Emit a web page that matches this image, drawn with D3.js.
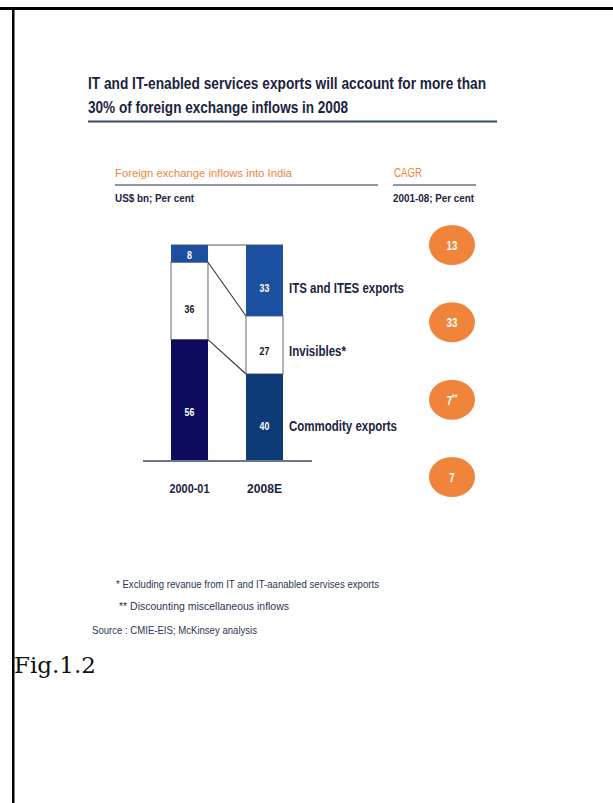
<!DOCTYPE html>
<html>
<head>
<meta charset="utf-8">
<script src="https://cdn.jsdelivr.net/npm/d3@7"></script>
<style>
  html, body { margin: 0; padding: 0; background: #fff; }
  svg { display: block; }
  .narrow { font-family: "Liberation Sans", Arial, sans-serif; }
</style>
</head>
<body>
<script>
// Foreign exchange inflows into India, share by source (per cent)
const years = ["2000-01", "2008E"];
const segments = ["Commodity exports", "Invisibles*", "ITS and ITES exports"];
const share2000 = [56, 36, 8];
const share2008 = [40, 27, 33];
// CAGR 2001-08, per cent (top to bottom)
const cagrValues = ["13", "33", "7", "7"];
const cagrMarks = ["", "", "**", ""];
const footnotes = [
  "* Excluding revanue from IT and IT-aanabled servises exports",
  "** Discounting miscellaneous inflows"
];
const sourceNote = "Source : CMIE-EIS; McKinsey analysis";

const W = 613, H = 803;
const svg = d3.select("body").append("svg").attr("width", W).attr("height", H);

const navyText = "#1c2340";
const orange = "#f0843a";
const fills = {
  "2000-01": ["#0f0b5e", "#ffffff", "#1d4f9e"],
  "2008E": ["#0d3b78", "#ffffff", "#1c51a2"]
};

// squeeze a text element to a narrow face of the given width
function fit(sel, w) {
  return sel.attr("textLength", w).attr("lengthAdjust", "spacingAndGlyphs");
}

// page frame
svg.append("rect").attr("x", 0).attr("y", 7).attr("width", W).attr("height", 3).attr("fill", "#000");
svg.append("rect").attr("x", 12).attr("y", 7).attr("width", 2.5).attr("height", H - 7).attr("fill", "#000");

// title
const title = svg.append("text").attr("class", "narrow")
  .attr("font-weight", "bold").attr("font-size", 16).attr("fill", navyText);
fit(title.append("tspan").attr("x", 88).attr("y", 89).text("IT and IT-enabled services exports will account for more than"), 398);
fit(title.append("tspan").attr("x", 88).attr("y", 113).text("30% of foreign exchange inflows in 2008"), 260);
svg.append("line").attr("x1", 88).attr("x2", 497).attr("y1", 121.5).attr("y2", 121.5)
  .attr("stroke", "#3b4a66").attr("stroke-width", 2);

// section headers
fit(svg.append("text").attr("class", "narrow").attr("x", 115).attr("y", 177)
  .attr("font-size", 11).attr("fill", orange).text("Foreign exchange inflows into India"), 177);
svg.append("line").attr("x1", 115).attr("x2", 378).attr("y1", 185).attr("y2", 185)
  .attr("stroke", "#2a2f40").attr("stroke-width", 1);
fit(svg.append("text").attr("class", "narrow").attr("x", 394).attr("y", 177)
  .attr("font-size", 12).attr("fill", orange).text("CAGR"), 28);
svg.append("line").attr("x1", 393).attr("x2", 476).attr("y1", 185).attr("y2", 185)
  .attr("stroke", "#2a2f40").attr("stroke-width", 1);
fit(svg.append("text").attr("class", "narrow").attr("x", 115).attr("y", 202)
  .attr("font-size", 11).attr("font-weight", "bold").attr("fill", navyText).text("US$ bn; Per cent"), 79);
fit(svg.append("text").attr("class", "narrow").attr("x", 393).attr("y", 202)
  .attr("font-size", 11).attr("font-weight", "bold").attr("fill", navyText).text("2001-08; Per cent"), 81);

// scales
const x = d3.scaleBand().domain(years).range([171, 283]).paddingInner(0.507).paddingOuter(0);
const y = d3.scaleLinear().domain([0, 100]).range([460, 245]);

const byYear = years.map(yr => {
  const vals = yr === "2000-01" ? share2000 : share2008;
  const st = d3.stack().keys(segments)([Object.fromEntries(segments.map((s, i) => [s, vals[i]]))]);
  return { year: yr, layers: st.map((l, i) => ({ segment: segments[i], y0: l[0][0], y1: l[0][1], value: l[0][1] - l[0][0] })) };
});
// labels sit a little below each segment's middle
const labelY = d => y(d.y0 + 0.4 * (d.y1 - d.y0));

const chart = svg.append("g");

// thin top line across the gap between the bars
chart.append("line").attr("x1", x(years[0])).attr("x2", x(years[1]) + x.bandwidth())
  .attr("y1", y(100)).attr("y2", y(100)).attr("stroke", "#2b2f45").attr("stroke-width", 0.8);

// connectors between the "Invisibles" segments
const inv2000 = byYear[0].layers[1], inv2008 = byYear[1].layers[1];
["y1", "y0"].forEach(k => {
  chart.append("line")
    .attr("x1", x(years[0]) + x.bandwidth()).attr("y1", y(inv2000[k]))
    .attr("x2", x(years[1])).attr("y2", y(inv2008[k]))
    .attr("stroke", "#333").attr("stroke-width", 1.1);
});

byYear.forEach(yd => {
  const g = chart.append("g");
  g.selectAll("rect").data(yd.layers).join("rect")
    .attr("x", x(yd.year)).attr("width", x.bandwidth())
    .attr("y", d => y(d.y1)).attr("height", d => y(d.y0) - y(d.y1))
    .attr("fill", (d, i) => fills[yd.year][i])
    .attr("stroke", (d, i) => i === 1 ? "#3a3f55" : "none")
    .attr("stroke-width", 0.8);
  g.selectAll("text").data(yd.layers).join("text").attr("class", "narrow")
    .attr("x", x(yd.year) + x.bandwidth() / 2)
    .attr("y", d => labelY(d) + 4)
    .attr("text-anchor", "middle").attr("font-size", 11).attr("font-weight", "bold")
    .attr("fill", (d, i) => i === 1 ? "#111" : "#fff")
    .attr("transform-origin", d => `${x(yd.year) + x.bandwidth() / 2} 0`)
    .attr("transform", "scale(0.8,1)")
    .text(d => d.value);
});

// baseline and category axis
chart.append("line").attr("x1", 143).attr("x2", 312).attr("y1", y(0) + 1).attr("y2", y(0) + 1)
  .attr("stroke", "#3b4a66").attr("stroke-width", 1.3);
const axis = chart.append("g").attr("transform", `translate(0,${y(0) + 1})`)
  .call(d3.axisBottom(x).tickSize(0).tickPadding(23));
axis.select(".domain").remove();
const tickWidths = { "2000-01": 40, "2008E": 35 };
axis.selectAll("text").attr("class", "narrow").attr("font-size", 13).attr("font-weight", "bold")
  .attr("fill", navyText).attr("textLength", d => tickWidths[d]).attr("lengthAdjust", "spacingAndGlyphs");

// segment labels beside the 2008E bar
const segWidths = [108, 57, 115];
chart.selectAll(".seglabel").data(byYear[1].layers).join("text").attr("class", "narrow seglabel")
  .attr("x", x(years[1]) + x.bandwidth() + 6)
  .attr("y", d => labelY(d) + 5)
  .attr("font-size", 14).attr("font-weight", "bold").attr("fill", navyText)
  .attr("textLength", (d, i) => segWidths[i]).attr("lengthAdjust", "spacingAndGlyphs")
  .text(d => d.segment);

// CAGR bubbles
const yc = d3.scalePoint().domain(d3.range(cagrValues.length)).range([245, 477]);
const bub = svg.append("g").selectAll("g").data(cagrValues).join("g")
  .attr("transform", (d, i) => `translate(452,${yc(i)})`);
bub.append("ellipse").attr("rx", 23).attr("ry", 20).attr("fill", orange);
const bt = bub.append("text").attr("class", "narrow").attr("text-anchor", "middle").attr("y", 5)
  .attr("font-size", 13).attr("font-weight", "bold").attr("fill", "#fff")
  .attr("transform", "scale(0.75,1)");
bt.append("tspan").text(d => d);
bt.append("tspan").attr("font-size", 9).attr("dy", -5).text((d, i) => cagrMarks[i]);

// notes
const fnWidths = [263, 170];
svg.selectAll(".fn").data(footnotes).join("text").attr("class", "narrow fn")
  .attr("x", (d, i) => 116 + i * 3).attr("y", (d, i) => 588 + i * 22)
  .attr("font-size", 10.5).attr("fill", "#2b3550")
  .attr("textLength", (d, i) => fnWidths[i]).attr("lengthAdjust", "spacingAndGlyphs")
  .text(d => d);
fit(svg.append("text").attr("class", "narrow").attr("x", 92).attr("y", 634)
  .attr("font-size", 10.5).attr("fill", "#2b3550").text(sourceNote), 165);

// figure caption
svg.append("text").attr("x", 14).attr("y", 673)
  .attr("font-family", "'DejaVu Serif', 'Liberation Serif', serif").attr("font-size", 23)
  .attr("fill", "#111").text("Fig.1.2");
</script>
</body>
</html>
